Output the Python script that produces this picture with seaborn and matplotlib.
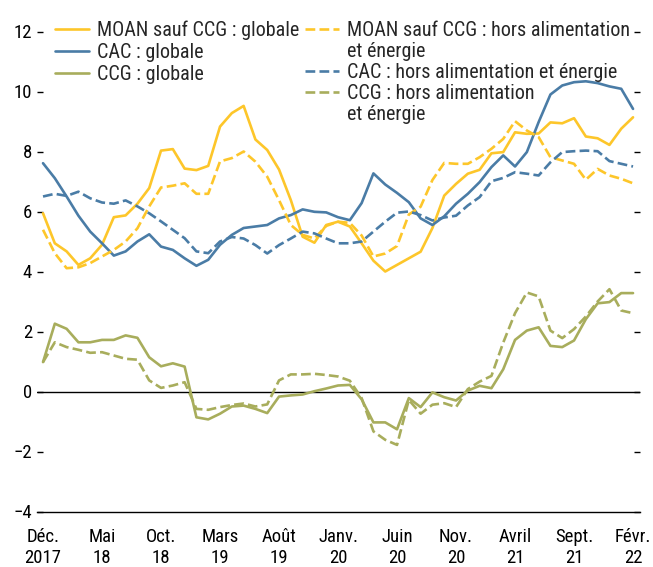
import numpy as np
import pandas as pd
import matplotlib
matplotlib.use("Agg")
import matplotlib.pyplot as plt
from matplotlib import font_manager as fm
from matplotlib.lines import Line2D
import seaborn as sns

# months since Dec. 2017 (0 = Déc. 2017, 50 = Févr. 2022)
months = list(range(51))

moan_global = [5.94, 4.94, 4.67, 4.22, 4.44, 4.89, 5.81, 5.87, 6.26, 6.78,
               8.03, 8.08, 7.43, 7.38, 7.52, 8.83, 9.28, 9.52, 8.40, 8.05,
               7.40, 6.38, 5.16, 4.96, 5.55, 5.66, 5.50, 4.94, 4.36, 4.00,
               4.22, 4.44, 4.66, 5.45, 6.53, 6.92, 7.26, 7.39, 7.94, 7.98,
               8.64, 8.59, 8.60, 8.97, 8.94, 9.11, 8.50, 8.44, 8.22, 8.76, 9.14]
moan_core = [5.39, 4.61, 4.11, 4.14, 4.28, 4.50, 4.72, 5.00, 5.44, 6.17,
             6.80, 6.86, 6.94, 6.59, 6.59, 7.67, 7.78, 8.00, 7.66, 7.16,
             6.38, 5.55, 5.22, 5.10, 5.52, 5.66, 5.62, 5.20, 4.50, 4.60,
             4.85, 5.90, 6.16, 7.05, 7.62, 7.59, 7.59, 7.81, 8.09, 8.42,
             9.01, 8.70, 8.48, 7.81, 7.70, 7.59, 7.06, 7.42, 7.20, 7.09, 6.94]
cac_global = [7.61, 7.11, 6.50, 5.86, 5.33, 4.94, 4.53, 4.67, 5.00, 5.24,
              4.83, 4.72, 4.44, 4.19, 4.39, 4.89, 5.22, 5.45, 5.50, 5.55,
              5.77, 5.88, 6.07, 5.99, 5.97, 5.81, 5.71, 6.28, 7.27, 6.90,
              6.62, 6.31, 5.77, 5.55, 5.84, 6.26, 6.59, 6.98, 7.48, 7.87,
              7.50, 7.98, 8.98, 9.90, 10.20, 10.31, 10.34, 10.28, 10.17, 10.09, 9.42]
cac_core = [6.50, 6.59, 6.52, 6.66, 6.44, 6.30, 6.26, 6.37, 6.17, 5.94,
            5.67, 5.39, 5.11, 4.67, 4.61, 5.00, 5.15, 5.10, 4.88, 4.60,
            4.88, 5.10, 5.33, 5.27, 5.10, 4.94, 4.94, 5.00, 5.33, 5.66,
            5.96, 6.00, 5.88, 5.70, 5.80, 5.86, 6.20, 6.48, 7.01, 7.12,
            7.31, 7.26, 7.20, 7.64, 7.98, 8.01, 8.03, 8.01, 7.68, 7.59, 7.50]
ccg_global = [0.98, 2.26, 2.09, 1.64, 1.64, 1.72, 1.72, 1.87, 1.79, 1.14,
              0.84, 0.94, 0.83, -0.86, -0.93, -0.74, -0.50, -0.47, -0.58, -0.72,
              -0.17, -0.13, -0.10, 0.01, 0.10, 0.20, 0.22, -0.26, -1.03, -1.03,
              -1.26, -0.22, -0.52, -0.03, -0.19, -0.30, 0.03, 0.19, 0.11, 0.74,
              1.72, 2.03, 2.14, 1.52, 1.48, 1.70, 2.41, 2.94, 2.98, 3.28, 3.28]
ccg_core = [0.98, 1.64, 1.48, 1.39, 1.29, 1.31, 1.20, 1.09, 1.06, 0.37,
            0.12, 0.20, 0.31, -0.58, -0.61, -0.52, -0.45, -0.40, -0.50, -0.43,
            0.37, 0.57, 0.57, 0.59, 0.55, 0.50, 0.36, -0.22, -1.33, -1.61,
            -1.78, -0.28, -0.74, -0.44, -0.39, -0.52, 0.08, 0.33, 0.52, 1.63,
            2.61, 3.30, 3.17, 2.03, 1.78, 2.08, 2.50, 3.00, 3.41, 2.70, 2.61]

tick_pos = list(range(0, 51, 5))
tick_labels = ["Déc.\n2017", "Mai\n18", "Oct.\n18", "Mars\n19", "Août\n19",
               "Janv.\n20", "Juin\n20", "Nov.\n20", "Avril\n21", "Sept.\n21",
               "Févr.\n22"]

YELLOW = "#FDC62A"
BLUE = "#4A7CA6"
OLIVE = "#A8AD5C"

sns.set_style("white")

# the original uses a condensed face; take one if the system has it
fonts = fm.fontManager.ttflist
names = {f.name for f in fonts}
family, stretch, narrow = "Liberation Sans", "normal", False
for cand in ["Liberation Sans Narrow", "Roboto Condensed", "Open Sans Condensed",
             "Noto Sans Condensed", "DejaVu Sans Condensed"]:
    if cand in names:
        family, narrow = cand, True
        break
if not narrow:
    for base in ["Roboto", "Noto Sans", "Open Sans", "DejaVu Sans"]:
        if any(f.name == base and f.stretch in ("condensed", "semi-condensed")
               for f in fonts):
            family, stretch, narrow = base, "condensed", True
            break

plt.rcParams["font.family"] = [family, "DejaVu Sans"]
plt.rcParams["font.stretch"] = stretch
tick_fs = 13.5 if narrow else 11.5
leg_fs = 14.5 if narrow else 12

fig = plt.figure(figsize=(6.53, 5.67), dpi=100)
ax = fig.add_axes([37 / 653, 1 - 511.5 / 567, 603 / 653, 480 / 567])

series = [
    ("MOAN sauf CCG : globale", moan_global, YELLOW, "-"),
    ("CAC : globale", cac_global, BLUE, "-"),
    ("CCG : globale", ccg_global, OLIVE, "-"),
    ("MOAN sauf CCG : hors alimentation", moan_core, YELLOW, "--"),
    ("CAC : hors alimentation et énergie", cac_core, BLUE, "--"),
    ("CCG : hors alimentation", ccg_core, OLIVE, "--"),
]

ax.axhline(0, color="black", lw=1.0, zorder=1)
for label, vals, col, ls in series:
    df = pd.DataFrame({"mois": months, "valeur": vals})
    sns.lineplot(data=df, x="mois", y="valeur", color=col, linestyle=ls,
                 lw=1.9, label=label, ax=ax, zorder=3)

ax.set_xlim(-0.51, 50.59)
ax.set_ylim(-4, 12)
ax.set_yticks(range(-4, 13, 2))
ax.set_xticks(tick_pos)
ax.set_xticklabels(tick_labels)
ax.set_xlabel("")
ax.set_ylabel("")

for s in ["left", "right", "top"]:
    ax.spines[s].set_visible(False)
ax.spines["bottom"].set_color("black")
ax.spines["bottom"].set_linewidth(1.0)

ax.tick_params(axis="y", which="both", direction="in", length=4.5, width=1,
               left=True, right=True, labelsize=tick_fs, pad=3.5, colors="black")
ax.tick_params(axis="x", direction="in", length=4.5, width=1,
               labelsize=tick_fs, pad=12, colors="black")

# two legend columns packed on their own; wrapped labels get a blank handle
# on their second line so the line sample sits next to the first line
handles, labels = ax.get_legend_handles_labels()
blank = Line2D([], [], color="none")
leg_kw = dict(loc="upper left", bbox_transform=fig.transFigure, frameon=False,
              fontsize=leg_fs, handlelength=1.7 if narrow else 2.0,
              handletextpad=0.4, borderpad=0, borderaxespad=0)
leg1 = ax.legend(handles[:3], labels[:3], labelspacing=0.13,
                 bbox_to_anchor=(55 / 653, 1 - 21 / 567), **leg_kw)
ax.add_artist(leg1)
h2 = [handles[3], blank, handles[4], handles[5], blank]
l2 = [labels[3], "et énergie", labels[4], labels[5], "et énergie"]
leg2 = ax.legend(h2, l2, labelspacing=0.1,
                 bbox_to_anchor=(305 / 653, 1 - 21 / 567), **leg_kw)

fig.savefig("out.png", dpi=100)
